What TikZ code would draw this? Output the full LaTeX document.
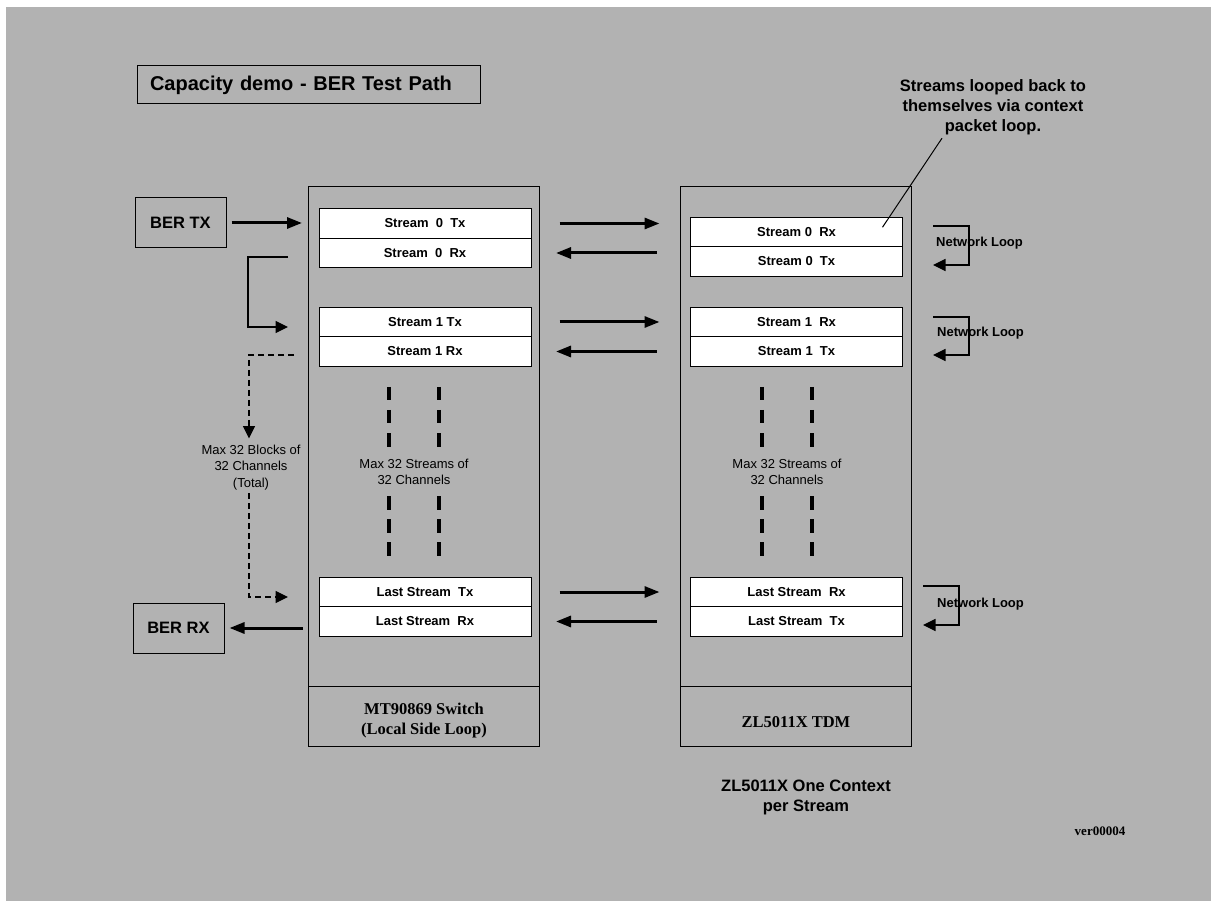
\documentclass[tikz,border=0pt]{standalone}
\usepackage{fontspec}
\setmainfont{Liberation Serif}
\setsansfont{Liberation Sans}
\usetikzlibrary{arrows.meta, positioning}
\definecolor{sheet}{RGB}{178,178,178}
\tikzstyle{titlebox} = [rectangle, 
draw=black, line width=1pt, 
text width=317pt, inner xsep=13pt, 
minimum height=38pt, 
font=\sffamily\bfseries\fontsize{20}{24}\selectfont]
\tikzstyle{ber} = [rectangle, 
minimum width=91pt, 
minimum height=50pt, 
draw=black, line width=1pt, 
font=\sffamily\bfseries\fontsize{16.5}{19}\selectfont]
\tikzstyle{chip} = [rectangle, 
minimum width=231pt, 
inner sep=0pt, outer sep=0pt, 
draw=black, line width=1pt]
\tikzstyle{chipname} = [chip, 
minimum height=60pt, 
align=center, 
font=\rmfamily\bfseries\fontsize{16.5}{20}\selectfont]
\tikzstyle{stream} = [rectangle, 
minimum width=212pt, 
minimum height=29.5pt, 
inner sep=0pt, outer sep=0pt, 
draw=black, line width=1pt, fill=white, 
font=\sffamily\bfseries\fontsize{13}{15}\selectfont]
\tikzstyle{note} = [align=center, font=\sffamily\fontsize{13}{16.4}\selectfont]
\tikzstyle{boldnote} = [align=center, font=\sffamily\bfseries\fontsize{16.5}{20}\selectfont]
\tikzstyle{netlabel} = [anchor=west, inner sep=0pt, font=\sffamily\bfseries\fontsize{13}{15}\selectfont]
\tikzstyle{arrow} = [line width=3pt,-{Triangle[length=15pt,width=11pt]}]
\tikzstyle{thinarrow} = [line width=1.1pt,-{Triangle[length=12.5pt,width=12pt]}]
\tikzstyle{dasharrow} = [thinarrow, dash pattern=on 6pt off 4pt]
\tikzstyle{gapdash} = [line width=4pt, dash pattern=on 13.5pt off 9.5pt]

\begin{document}
\begin{tikzpicture}[x=1pt, y=-1pt]
	\fill [white] (0,0) rectangle (1211,901);
	\fill [sheet] (6,7) rectangle (1211,901);

	\node (title) [titlebox] at (308.5,85) {Capacity demo - BER Test Path};
	\node (ber_tx) [ber] at (180.5,223) {BER TX};
	\node (ber_rx) [ber] at (178.5,628) {BER RX};

	\node (switch) [chip, minimum height=499.5pt] at (424,436.25) {};
	\node (switch_name) [chipname, below=0pt of switch] {\rule{0pt}{20pt}MT90869 Switch\\(Local Side Loop)};
	\node (tdm) [chip, minimum height=499.5pt] at (796,436.25) {};
	\node (tdm_name) [chipname, below=0pt of tdm] {\rule{0pt}{23pt}ZL5011X TDM};

	\node (l_s0_tx) [stream] at (425,223.5) {Stream~ 0~ Tx};
	\node (l_s0_rx) [stream, below=0pt of l_s0_tx] {Stream~ 0~ Rx};
	\node (l_s1_tx) [stream] at (425,322) {Stream 1 Tx};
	\node (l_s1_rx) [stream, below=0pt of l_s1_tx] {Stream 1 Rx};
	\node (l_last_tx) [stream] at (425,592) {Last Stream~ Tx};
	\node (l_last_rx) [stream, below=0pt of l_last_tx] {Last Stream~ Rx};

	\node (r_s0_rx) [stream] at (796.5,232) {Stream 0~ Rx};
	\node (r_s0_tx) [stream, below=0pt of r_s0_rx] {Stream 0~ Tx};
	\node (r_s1_rx) [stream] at (796.5,322) {Stream 1~ Rx};
	\node (r_s1_tx) [stream, below=0pt of r_s1_rx] {Stream 1~ Tx};
	\node (r_last_rx) [stream] at (796.5,592) {Last Stream~ Rx};
	\node (r_last_tx) [stream, below=0pt of r_last_rx] {Last Stream~ Tx};

	\node (l_streams_note) [note] at (414,472) {Max 32 Streams of\\32 Channels};
	\node (r_streams_note) [note] at (787,472) {Max 32 Streams of\\32 Channels};
	\node (blocks_note) [note] at (251,467.5) {Max 32 Blocks of\\32 Channels\\(Total)};

	\node (loop_note) [boldnote] at (993,107) {Streams looped back to\\themselves via context\\packet loop.};
	\node (context_note) [boldnote] at (806,797.5) {ZL5011X One Context\\per Stream};
	\node (version) [font=\rmfamily\bfseries\fontsize{13}{15}\selectfont] at (1100,831) {ver00004};

	% switch <-> tdm
	\draw [arrow] ([xshift=20pt]switch.east |- l_s0_tx) -- ([xshift=-21pt]tdm.west |- l_s0_tx);
	\draw [arrow] ([xshift=-24pt]tdm.west |- l_s0_rx) -- ([xshift=16.5pt]switch.east |- l_s0_rx);
	\draw [arrow] ([xshift=20pt]switch.east |- l_s1_tx) -- ([xshift=-21pt]tdm.west |- l_s1_tx);
	\draw [arrow] ([xshift=-24pt]tdm.west |- l_s1_rx) -- ([xshift=16.5pt]switch.east |- l_s1_rx);
	\draw [arrow] ([xshift=20pt]switch.east |- l_last_tx) -- ([xshift=-21pt]tdm.west |- l_last_tx);
	\draw [arrow] ([xshift=-24pt]tdm.west |- l_last_rx) -- ([xshift=16.5pt]switch.east |- l_last_rx);

	\draw [arrow, shorten <=5pt] (ber_tx.east) -- ([xshift=-6.5pt]switch.west |- ber_tx);
	\draw [arrow, shorten >=5pt] ([xshift=-5.5pt]switch.west |- ber_rx) -- (ber_rx.east);

	% local side loop
	\coordinate (loop_top) at (288,257);
	\coordinate (loop_end) at (288,327);
	\draw [thinarrow] (loop_top) -- ++(-40,0) |- (loop_end);

	\coordinate (blk_top) at (294,355);
	\coordinate (blk_end) at (288,597);
	\draw [dasharrow, shorten >=3pt] (blk_top) -| ([xshift=-2pt]blocks_note.north);
	\draw [dasharrow] ([xshift=-2pt]blocks_note.south) |- (blk_end);

	% stream gaps
	\draw [gapdash] (389,387) -- (389,447);
	\draw [gapdash] (439,387) -- (439,447);
	\draw [gapdash] (389,496) -- (389,557);
	\draw [gapdash] (439,496) -- (439,557);
	\draw [gapdash] (762,387) -- (762,447);
	\draw [gapdash] (812,387) -- (812,447);
	\draw [gapdash] (762,496) -- (762,557);
	\draw [gapdash] (812,496) -- (812,557);

	% network loops
	\coordinate (net0_top) at (933,226);
	\coordinate (net0_end) at (933,265);
	\draw [thinarrow] (net0_top) -- ++(36,0) |- (net0_end);
	\node (net0_label) [netlabel] at (936,243) {Network Loop};
	\coordinate (net1_top) at (933,317);
	\coordinate (net1_end) at (933,355);
	\draw [thinarrow] (net1_top) -- ++(36,0) |- (net1_end);
	\node (net1_label) [netlabel] at (937,333) {Network Loop};
	\coordinate (net2_top) at (923,586);
	\coordinate (net2_end) at (923,625);
	\draw [thinarrow] (net2_top) -- ++(36,0) |- (net2_end);
	\node (net2_label) [netlabel] at (937,604) {Network Loop};

	\draw [line width=1pt] ([xshift=-51pt]loop_note.south) -- ([shift={(-20,10)}]r_s0_rx.north east);
\end{tikzpicture}
\end{document}
